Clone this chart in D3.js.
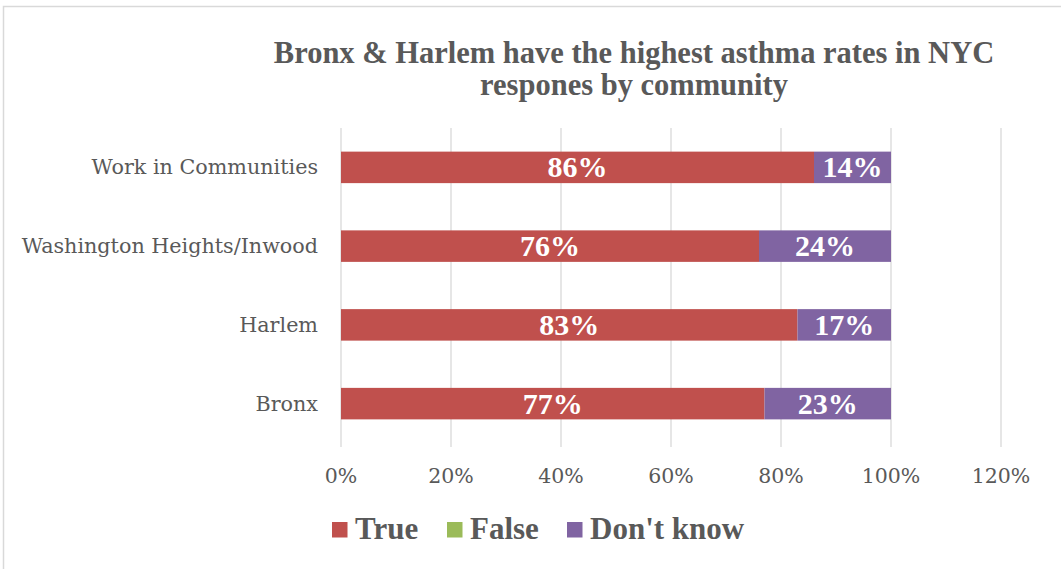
<!DOCTYPE html>
<html><head><meta charset="utf-8">
<script src="https://cdn.jsdelivr.net/npm/d3@7"></script>
<style>body{margin:0;background:#fff}svg{display:block}</style>
</head><body>
<script>
const categories = ["Work in Communities","Washington Heights/Inwood","Harlem","Bronx"];
const seriesNames = ["True","False","Don't know"];
const trueVals = [0.86,0.76,0.83,0.77];
const falseVals = [0,0,0,0];
const dontKnowVals = [0.14,0.24,0.17,0.23];
const ticks = [0,0.2,0.4,0.6,0.8,1.0,1.2];
const tickLabels = ["0%","20%","40%","60%","80%","100%","120%"];
const titleLines = ["Bronx & Harlem have the highest asthma rates in NYC","respones by community"];
const colors = ["#C0504D","#9BBB59","#8064A2"];

const W=1061,H=569;
const font="'Liberation Serif', serif";
const rfont="'DejaVu Serif', serif";
const svg=d3.select("body").append("svg").attr("width",W).attr("height",H);
svg.append("rect").attr("x",3.5).attr("y",6.5).attr("width",1080).attr("height",600)
  .attr("fill","#fff").attr("stroke","#D9D9D9").attr("stroke-width",1.5);

const x=d3.scaleLinear().domain([0,1.2]).range([341,1001]);
const y=d3.scaleBand().domain(categories).range([128,443]).paddingInner(0.6).paddingOuter(0.3);

// gridlines
svg.append("g").selectAll("line").data(ticks).join("line")
  .attr("x1",d=>x(d)).attr("x2",d=>x(d)).attr("y1",128).attr("y2",447)
  .attr("stroke","#D9D9D9").attr("stroke-width",1.3);

// tick labels
svg.append("g").selectAll("text").data(ticks).join("text")
  .attr("x",d=>x(d)).attr("y",483).attr("text-anchor","middle")
  .attr("font-family",rfont).attr("font-size",20.5).attr("fill","#595959")
  .text((d,i)=>tickLabels[i]);

// category labels
svg.append("g").selectAll("text").data(categories).join("text")
  .attr("x",318).attr("y",d=>y(d)+y.bandwidth()/2+7).attr("text-anchor","end")
  .attr("font-family",rfont).attr("font-size",20.7).attr("fill","#595959").text(d=>d);

// stacked data
const rows=categories.map((c,i)=>({cat:c,"True":trueVals[i],"False":falseVals[i],"Don't know":dontKnowVals[i]}));
const stack=d3.stack().keys(seriesNames)(rows);
const g=svg.append("g");
stack.forEach((s,si)=>{
  g.selectAll(null).data(s).join("rect")
    .attr("x",d=>x(d[0])).attr("y",d=>y(d.data.cat))
    .attr("width",d=>x(d[1])-x(d[0])).attr("height",y.bandwidth())
    .attr("fill",colors[si]);
  g.selectAll(null).data(s.filter(d=>d[1]-d[0]>0)).join("text")
    .attr("x",d=>(x(d[0])+x(d[1]))/2).attr("y",d=>y(d.data.cat)+y.bandwidth()/2+10)
    .attr("text-anchor","middle").attr("font-family",font).attr("font-weight","bold")
    .attr("font-size",30).attr("fill","#fff")
    .text(d=>Math.round((d[1]-d[0])*100)+"%");
});

// title
svg.append("g").selectAll("text").data(titleLines).join("text")
  .attr("x",634).attr("y",(d,i)=>63+i*32).attr("text-anchor","middle")
  .attr("font-family",font).attr("font-weight","bold").attr("font-size",30.5).attr("fill","#595959")
  .text(d=>d);

// legend
const legX=[332,447,567];
const lg=svg.append("g").selectAll("g").data(seriesNames).join("g")
  .attr("transform",(d,i)=>`translate(${legX[i]},0)`);
lg.append("rect").attr("x",0).attr("y",522).attr("width",15.5).attr("height",15.5).attr("fill",(d,i)=>colors[i]);
lg.append("text").attr("x",23).attr("y",539).attr("font-family",font).attr("font-weight","bold")
  .attr("font-size",31).attr("fill","#595959").text(d=>d);
</script>
</body></html>
